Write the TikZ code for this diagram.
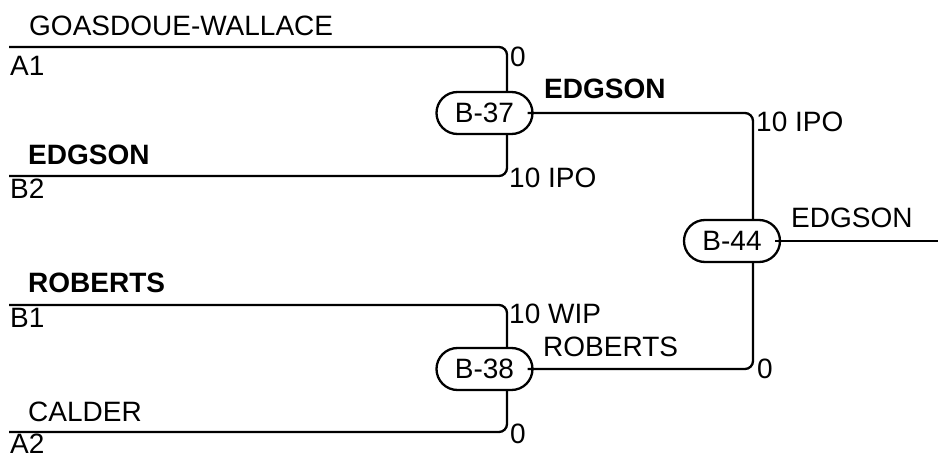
\documentclass[tikz,border=0pt]{standalone}
\usepackage{fontspec}
\setmainfont{Liberation Sans}
\usetikzlibrary{positioning}
\tikzset{bout/.style={draw, line width=2.3pt, fill=white, rounded corners=21pt,
    minimum width=96pt, minimum height=42pt, inner sep=0pt},
  lbl/.style={anchor=west, inner sep=0pt},
  wire/.style={line width=2.3pt, rounded corners=8pt}}

\begin{document}
\begin{tikzpicture}[x=1pt, y=-1pt, font=\fontsize{28}{31}\selectfont]
\useasboundingbox (0,0) rectangle (938,457);

\coordinate (a1) at (9,47);
\coordinate (b2) at (9,176);
\coordinate (b1) at (9,305);
\coordinate (a2) at (9,432);
\coordinate (j37) at (507,113);
\coordinate (j38) at (507,369);
\coordinate (j44) at (753,241);
\coordinate (out) at (938,241);

\draw [wire] (a1) -| (j37) |- (b2);
\draw [wire] (b1) -| (j38) |- (a2);

\node [bout] (B37) at (484.5,113) {B-37};
\node [bout] (B38) at (484.5,369) {B-38};

\draw [wire] ([xshift=-6pt]B37.east) -| (j44) |- ([xshift=-6pt]B38.east);
\node [bout] (B44) at (732,241) {B-44};
\draw [wire] ([xshift=-6pt]B44.east) -- (out);

% team names and seeds
\node [lbl] (nA1) at (29,26) {GOASDOUE-WALLACE};
\node [lbl] (sA1) at (10,66) {A1};
\node [lbl] (nB2) at (28,155) {\bfseries EDGSON};
\node [lbl] (sB2) at (10,189) {B2};
\node [lbl] (nB1) at (28,283) {\bfseries ROBERTS};
\node [lbl] (sB1) at (10,318) {B1};
\node [lbl] (nA2) at (28,412) {CALDER};
\node [lbl] (sA2) at (10,444) {A2};

% scores
\node [lbl] (pA1) at (510,57) {0};
\node [lbl] (pB2) at (509,178) {10 IPO};
\node [lbl] (pB1) at (509,314) {10 WIP};
\node [lbl] (pA2) at (510,434) {0};
\node [lbl] (w37) at (544,89) {\bfseries EDGSON};
\node [lbl] (p37) at (756,122) {10 IPO};
\node [lbl] (w38) at (543,347) {ROBERTS};
\node [lbl] (p38) at (757,369) {0};
\node [lbl] (w44) at (791,218) {EDGSON};

\end{tikzpicture}
\end{document}
